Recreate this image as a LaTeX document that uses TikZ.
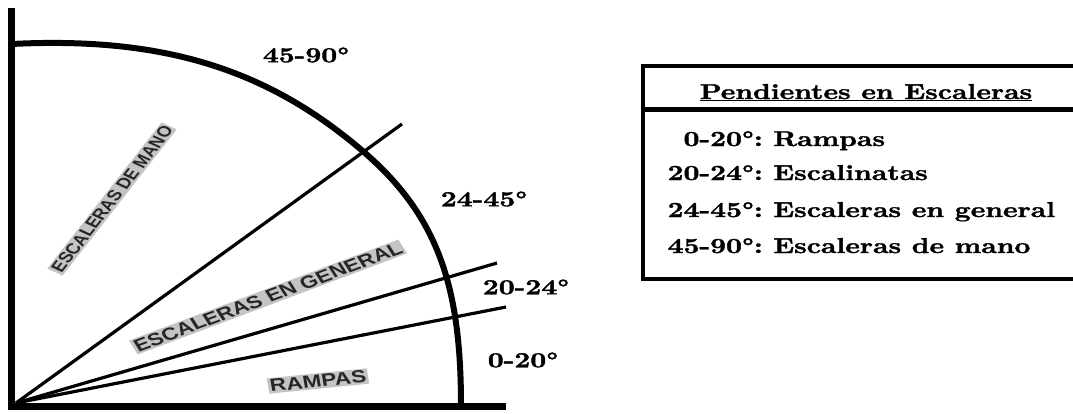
\documentclass[tikz,border=0pt]{standalone}
\usepackage{fontspec}
\usepackage{graphicx}
\newfontfamily\labsans{Liberation Sans}
\newfontfamily\heavyserif{lmroman10-bold.otf}[FakeBold=1.4]
\definecolor{hlgray}{HTML}{C4C4C4}
\newcommand{\wide}[1]{\scalebox{1.29}[1]{#1}}
\begin{document}
\begin{tikzpicture}[x=1pt,y=-1pt,
  axisline/.style={line width=7pt, line join=miter},
  arcline/.style={line width=6pt},
  ray/.style={line width=3.2pt},
  frame/.style={line width=4.5pt},
  serif/.style={inner sep=0pt, font=\heavyserif\fontsize{21.5}{26}\selectfont},
  zone/.style={fill=hlgray, inner sep=1.5pt, transform shape, text=black!85}]
\clip (0,0) rectangle (1073,413);
\fill[white] (0,0) rectangle (1073,413);
% axes
\coordinate (ytop) at (11.5,8);
\coordinate (xend) at (506,406);
\coordinate (O) at (16,403);
\draw[axisline] (ytop) |- (xend);
% arc
\coordinate (arcA) at (11.5,44);
\coordinate (arcM) at (365,153);
\coordinate (arcB) at (461,406);
\draw[arcline] (arcA) .. controls (161.5,36.5) and (267,68) .. (arcM)
  .. controls (440.4,218.6) and (461,291) .. (arcB);
% rays
\coordinate (r1) at (402,124);
\coordinate (r2) at (497,263);
\coordinate (r3) at (506,307);
\draw[ray] (O) -- (r1);
\draw[ray] (O) -- (r2);
\draw[ray] (O) -- (r3);
% zone labels
\node[zone, font=\labsans\bfseries\fontsize{15}{16}\selectfont, xscale=1.3, rotate=59] (mano) at (112,199) {ESCALERAS DE MANO};
\node[zone, font=\labsans\bfseries\fontsize{17.5}{19}\selectfont, xscale=1.3, rotate=26] (gen) at (268,297) {ESCALERAS EN GENERAL};
\node[zone, font=\labsans\bfseries\fontsize{17.5}{19}\selectfont, xscale=1.3, rotate=7.5] (ramp) at (318,381) {RAMPAS};
% angle labels
\node[serif] (a4590) at (306,55) {\wide{45-90°}};
\node[serif] (a2445) at (484,199) {\wide{24-45°}};
\node[serif] (a2024) at (526,287) {\wide{20-24°}};
\node[serif] (a020) at (523,360) {\wide{0-20°}};
% table
\draw[frame] (1080,66) -- (643,66) -- (643,279) -- (1080,279);
\draw[frame] (643,109.5) -- (1080,109.5);
\node[serif, anchor=base] (hdr) at (866,99) {\wide{\underline{Pendientes en Escaleras}}};
\node[serif, anchor=base east] (n1) at (763,146) {\wide{0-20°:}};
\node[serif, anchor=base west] (t1) at (773,146) {\wide{Rampas}};
\node[serif, anchor=base east] (n2) at (763,180) {\wide{20-24°:}};
\node[serif, anchor=base west] (t2) at (773,180) {\wide{Escalinatas}};
\node[serif, anchor=base east] (n3) at (763,217) {\wide{24-45°:}};
\node[serif, anchor=base west] (t3) at (773,217) {\wide{Escaleras en general}};
\node[serif, anchor=base east] (n4) at (763,253) {\wide{45-90°:}};
\node[serif, anchor=base west] (t4) at (773,253) {\wide{Escaleras de mano}};
\end{tikzpicture}
\end{document}
